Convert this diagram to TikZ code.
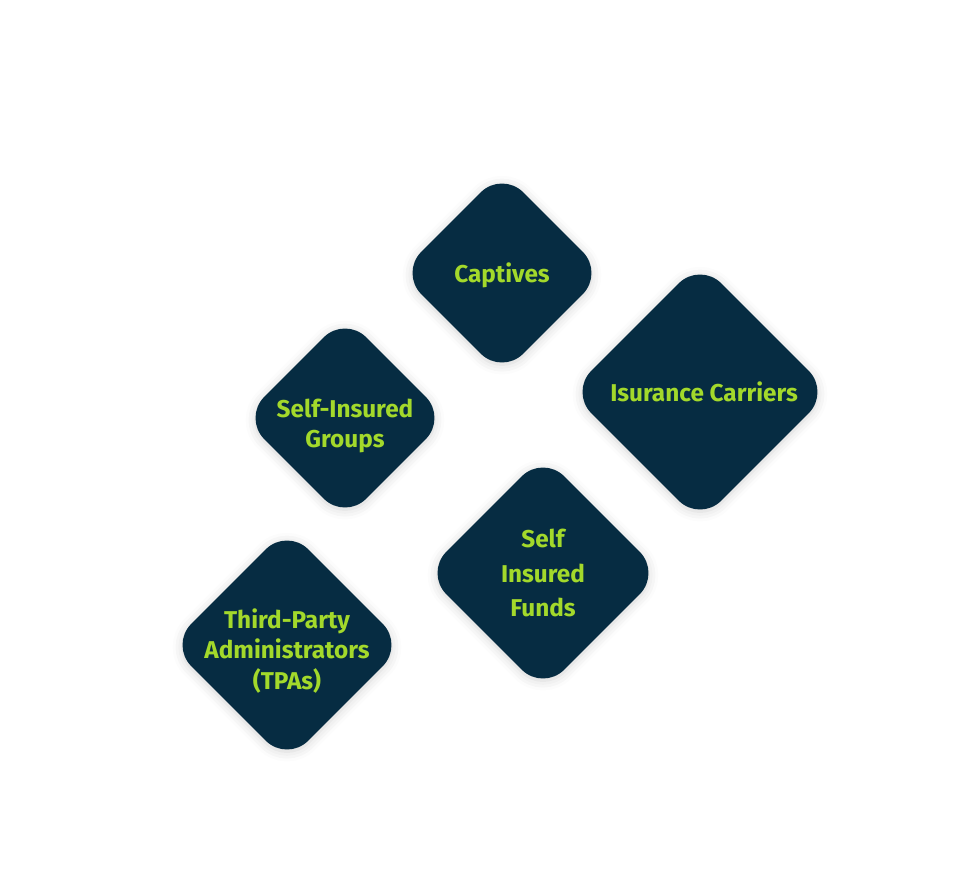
\documentclass[tikz,border=0pt]{standalone}
\usepackage{fontspec}
\setmainfont{Fira Sans}
\usepackage{xcolor}
\usepackage{tikz}
\usetikzlibrary{shapes.geometric,positioning,shadows.blur}

\definecolor{navy}{HTML}{062C42}
\definecolor{lime}{HTML}{A3D92B}

\begin{document}
\begin{tikzpicture}[x=0.025cm, y=-0.025cm,
    tile/.style={diamond, aspect=1, fill=navy, draw=none, inner sep=0pt, rounded corners=0.75cm,
        blur shadow={shadow xshift=0pt, shadow yshift=-1.5pt, shadow blur radius=7pt, shadow opacity=18}},
    txt/.style={text=lime, align=center, font=\bfseries\fontsize{17.3}{21.5}\selectfont}
]
\useasboundingbox (0,0) rectangle (968,880);

% Haut
\node[tile, minimum size=5.1cm, label={[txt, yshift=-0.05cm]center:Captives}] (capt) at (502,273) {};
\node[tile, minimum size=6.5cm, label={[txt, xshift=0.1cm]center:Isurance Carriers}] (carr) at (700,392) {};

% Milieu
\node[tile, minimum size=5.1cm, label={[txt, yshift=-0.2cm]center:Self-Insured\\Groups}] (sig) at (345,418) {};
\node[tile, minimum size=5.9cm, label={[txt]center:Self\\[3pt]Insured\\[3pt]Funds}] (sif) at (543,573) {};

% Bas
\node[tile, minimum size=5.85cm, label={[txt, yshift=-0.15cm]center:Third-Party\\Administrators\\(TPAs)}] (tpa) at (287,645) {};
\end{tikzpicture}
\end{document}
